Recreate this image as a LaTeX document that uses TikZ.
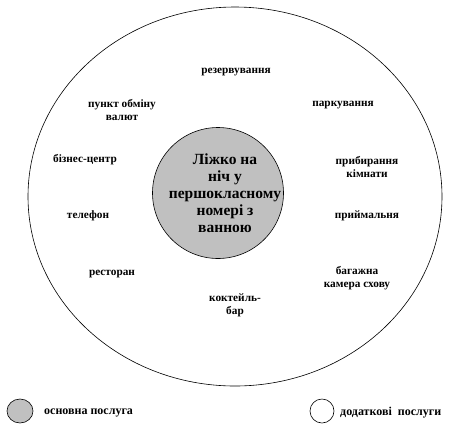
\documentclass[tikz,border=0pt]{standalone}
\usepackage{fontspec}
\setmainfont{Liberation Serif}
\usetikzlibrary{shapes.geometric}
\definecolor{coregray}{RGB}{192,192,192}
\begin{document}
\begin{tikzpicture}[x=1pt,y=-1pt,
  lbl/.style={font=\fontsize{11.3}{12.8}\selectfont\bfseries, align=center, inner sep=0pt},
  legtxt/.style={font=\fontsize{12}{13}\selectfont\bfseries, inner sep=0pt},
  coretxt/.style={font=\fontsize{15.5}{17}\selectfont\bfseries, align=center, inner sep=0pt},
  ring/.style={draw=black, line width=0.6pt}]
\useasboundingbox (0,0) rectangle (474,432);
% outer ring
\draw[ring] (235,196.5) ellipse [x radius=207, y radius=189.5];
% core service
\node[ring, fill=coregray, circle, minimum size=131pt, inner sep=0pt] (core) at (218,193) {};
\node[coretxt] (coretext) at (225,193) {Ліжко на\\ніч у\\першокласному\\номері з\\ванною};
% additional services
\node[lbl] (rez) at (236,72) {резервування};
\node[lbl] (punkt) at (122,110) {пункт обміну\\валют};
\node[lbl] (park) at (343,105) {паркування};
\node[lbl] (biz) at (85,160) {бізнес-центр};
\node[lbl] (prib) at (367,167) {прибирання\\кімнати};
\node[lbl] (tel) at (88,216) {телефон};
\node[lbl] (pryi) at (367,216) {приймальня};
\node[lbl] (rest) at (112,274) {ресторан};
\node[lbl] (bag) at (357,278) {багажна\\камера схову};
\node[lbl] (kokt) at (235,305) {коктейль-\\бар};
% legend
\node[ring, fill=coregray, ellipse, minimum width=26pt, minimum height=24pt, inner sep=0pt] (legcore) at (20,411) {};
\node[legtxt, anchor=west] (leg1) at (44,413) {основна послуга};
\node[ring, fill=white, circle, minimum size=24pt, inner sep=0pt] (legadd) at (322,411) {};
\node[legtxt, anchor=west] (leg2) at (340,413) {додаткові\ \ послуги};
\end{tikzpicture}
\end{document}
